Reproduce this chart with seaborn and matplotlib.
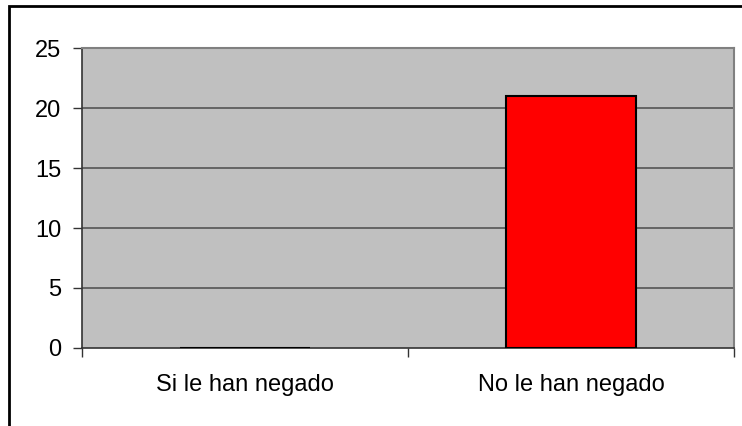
import matplotlib
matplotlib.use("Agg")
import matplotlib.pyplot as plt
import seaborn as sns
import pandas as pd
from matplotlib.patches import Rectangle

categories = ["Si le han negado", "No le han negado"]
values = [0, 21]
yticks = [0, 5, 10, 15, 20, 25]

sns.set_theme(style="white")
plt.rcParams["font.family"] = ["Liberation Sans", "DejaVu Sans"]

df = pd.DataFrame({"categoria": categories, "valor": values})

fig = plt.figure(figsize=(7.42, 4.26), dpi=100)
ax = fig.add_axes([82 / 742, 1 - 348 / 426, (734 - 82) / 742, (348 - 48) / 426])
ax.set_facecolor("#C0C0C0")

sns.barplot(data=df, x="categoria", y="valor", color="#FF0000", width=0.4,
            edgecolor="black", linewidth=1.5, saturation=1, ax=ax, zorder=3)

ax.set_xlim(-0.5, 1.5)
ax.set_ylim(0, 25)
ax.set_yticks(yticks)
ax.set_yticklabels([str(t) for t in yticks])
ax.set_xticks([-0.5, 0.5, 1.5], minor=False)
ax.set_xticklabels(["", "", ""])
ax.set_xticks([0, 1], minor=True)
ax.set_xticklabels(categories, minor=True)
ax.set_xlabel("")
ax.set_ylabel("")

for t in yticks[1:-1]:
    ax.axhline(t, color="#555555", linewidth=1.2, zorder=1)

ax.tick_params(axis="y", which="major", direction="out", length=6.5, width=1,
               color="#333333", pad=8.6, labelsize=17, labelcolor="black", left=True)
ax.tick_params(axis="x", which="major", direction="out", length=6.5, width=1,
               color="#333333", bottom=True)
ax.tick_params(axis="x", which="minor", length=0, pad=19, labelsize=17,
               labelcolor="black", bottom=True)

for side in ("left", "bottom"):
    ax.spines[side].set_color("#333333")
    ax.spines[side].set_linewidth(1.2)
for side in ("top", "right"):
    ax.spines[side].set_visible(True)
    ax.spines[side].set_color("#808080")
    ax.spines[side].set_linewidth(1.5)

# outer chart frame
fig.patches.append(Rectangle((9 / 742, -0.1), 1.1, 1 - 6 / 426 + 0.1,
                             transform=fig.transFigure, fill=False,
                             edgecolor="black", linewidth=2, clip_on=False))

fig.savefig("out.png", dpi=100)
